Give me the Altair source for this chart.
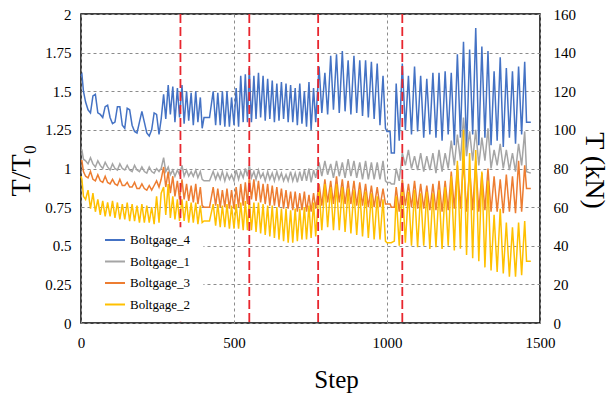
import altair as alt
import pandas as pd

# ---------------- data ----------------
steps = [0, 3, 8, 15, 23, 31, 39, 47, 55, 63, 71, 79, 87, 95, 103, 111, 119, 127, 135, 143,
         151, 159, 167, 175, 183, 191, 199, 207, 215, 223, 231, 239, 247, 255, 262,
         270, 277, 285, 292, 300, 307, 315, 322, 330, 337, 345, 352, 360, 367, 375, 382, 390, 396,
         402, 420,
         432, 440, 447, 455, 462, 470, 477, 485, 492, 500, 507, 515, 522, 530, 537, 544,
         550, 557, 565, 572, 580, 587, 595, 602, 610, 617, 625, 632, 640, 647, 655, 662, 670, 677,
         685, 692, 700, 707, 715, 722, 730, 737, 745, 752, 760, 767,
         778, 787, 797, 806, 816, 825, 835, 844, 854, 863, 873, 882, 892, 901, 911, 920, 930, 939,
         949, 958, 968, 977, 987, 995,
         1000, 1010, 1014, 1024,
         1030, 1040, 1050, 1060, 1070, 1080, 1090, 1100, 1110, 1120, 1130, 1140, 1150, 1160, 1170,
         1180, 1190, 1200, 1210, 1220, 1230, 1240, 1250, 1260, 1270, 1280, 1290, 1300, 1310, 1320,
         1330, 1340, 1350, 1360, 1370, 1380, 1390, 1400, 1410, 1420, 1430, 1440, 1450,
         1456, 1470]

boltgage_4 = [1.60, 1.61, 1.50, 1.43, 1.38, 1.36, 1.47, 1.48, 1.36, 1.35, 1.33, 1.40, 1.41, 1.33, 1.29,
              1.30, 1.40, 1.40, 1.28, 1.26, 1.39, 1.38, 1.28, 1.24, 1.23, 1.30, 1.37, 1.30, 1.23, 1.21,
              1.25, 1.36, 1.35, 1.22, 1.32,
              1.48, 1.32, 1.54, 1.35, 1.53, 1.30, 1.52, 1.33, 1.54, 1.29, 1.50, 1.31, 1.49, 1.28, 1.50,
              1.30, 1.46, 1.26,
              1.33, 1.33,
              1.50, 1.28, 1.49, 1.28, 1.50, 1.27, 1.50, 1.27, 1.46, 1.28, 1.52, 1.27, 1.60, 1.30, 1.61, 1.30,
              1.65, 1.30, 1.60, 1.32, 1.62, 1.33, 1.60, 1.31, 1.58, 1.32, 1.57, 1.30, 1.55, 1.31, 1.56,
              1.32, 1.55, 1.30, 1.54, 1.30, 1.52, 1.28, 1.55, 1.29, 1.50, 1.27, 1.56, 1.25, 1.52, 1.30,
              1.66, 1.36, 1.62, 1.35, 1.73, 1.38, 1.74, 1.36, 1.76, 1.37, 1.70, 1.35, 1.73, 1.36, 1.70,
              1.34, 1.70, 1.33, 1.69, 1.32, 1.68, 1.28, 1.60, 1.26,
              1.24, 1.24, 1.10, 1.10,
              1.55, 1.18, 1.68, 1.25, 1.60, 1.22, 1.66, 1.24, 1.60, 1.20, 1.58, 1.22, 1.62, 1.20, 1.62,
              1.18, 1.63, 1.22, 1.62, 1.15, 1.74, 1.20, 1.82, 1.12, 1.77, 1.22, 1.91, 1.15, 1.79, 1.20,
              1.76, 1.15, 1.63, 1.18, 1.72, 1.14, 1.65, 1.20, 1.63, 1.16, 1.66, 1.22, 1.69,
              1.30, 1.30]

boltgage_1 = [1.12, 1.12, 1.06, 1.05, 1.03, 1.07, 1.03, 1.01, 1.05, 1.02, 1.00, 1.04, 1.01, 0.99, 1.03,
              1.00, 0.99, 1.03, 1.00, 0.99, 1.02, 0.99, 0.98, 1.02, 0.99, 0.98, 1.01, 0.98, 0.97, 1.01,
              0.98, 0.97, 1.00, 0.98, 1.00,
              1.07, 0.98, 1.01, 0.96, 0.99, 0.95, 0.99, 0.96, 1.02, 0.95, 0.99, 0.95, 0.98, 0.95, 0.99,
              0.94, 0.98, 0.93,
              0.92, 0.92,
              0.98, 0.93, 0.97, 0.93, 0.98, 0.92, 0.97, 0.93, 0.96, 0.92, 0.99, 0.93, 0.98, 0.94, 1.00, 0.95,
              1.02, 0.94, 0.98, 0.93, 0.99, 0.94, 0.97, 0.92, 0.98, 0.93, 0.97, 0.92, 0.98, 0.93, 0.97,
              0.92, 0.96, 0.92, 0.98, 0.92, 0.97, 0.91, 0.98, 0.92, 0.99, 0.92, 1.00, 0.91, 0.99, 0.94,
              1.04, 0.95, 1.05, 0.96, 1.03, 0.94, 1.05, 0.95, 1.04, 0.94, 1.06, 0.95, 1.05, 0.94, 1.04,
              0.93, 1.05, 0.93, 1.04, 0.93, 1.04, 0.93, 1.05, 0.92,
              0.91, 0.91, 0.90, 0.90,
              1.00, 0.92, 1.10, 1.02, 1.12, 1.00, 1.08, 0.99, 1.10, 0.98, 1.08, 0.99, 1.10, 0.97, 1.12,
              0.98, 1.10, 1.00, 1.18, 1.02, 1.22, 1.05, 1.33, 1.08, 1.24, 1.05, 1.25, 1.02, 1.20, 1.05,
              1.26, 1.00, 1.12, 1.02, 1.16, 1.00, 1.12, 0.99, 1.10, 0.98, 1.16, 1.02, 1.24,
              0.98, 0.97]

boltgage_3 = [1.05, 1.05, 0.98, 0.95, 0.94, 0.98, 0.93, 0.92, 0.96, 0.92, 0.91, 0.95, 0.91, 0.90, 0.93,
              0.90, 0.89, 0.93, 0.89, 0.89, 0.91, 0.88, 0.88, 0.91, 0.87, 0.87, 0.90, 0.87, 0.86, 0.89,
              0.86, 0.89, 0.92, 0.88, 0.93,
              1.01, 0.88, 0.98, 0.84, 0.95, 0.82, 0.92, 0.80, 0.93, 0.80, 0.90, 0.79, 0.89, 0.78, 0.90,
              0.77, 0.88, 0.76,
              0.75, 0.75,
              0.88, 0.76, 0.87, 0.75, 0.86, 0.75, 0.87, 0.74, 0.86, 0.74, 0.88, 0.75, 0.90, 0.76, 0.91, 0.77,
              0.95, 0.80, 0.93, 0.79, 0.92, 0.78, 0.90, 0.77, 0.90, 0.76, 0.89, 0.76, 0.88, 0.75, 0.87,
              0.74, 0.86, 0.74, 0.85, 0.73, 0.85, 0.72, 0.84, 0.73, 0.85, 0.72, 0.83, 0.72, 0.84, 0.74,
              0.90, 0.76, 0.93, 0.78, 0.92, 0.77, 0.95, 0.78, 0.93, 0.77, 0.92, 0.77, 0.92, 0.76, 0.91,
              0.76, 0.90, 0.75, 0.89, 0.75, 0.88, 0.75, 0.87, 0.77,
              0.77, 0.77, 0.75, 0.75,
              0.88, 0.72, 0.93, 0.76, 0.90, 0.75, 0.92, 0.74, 0.90, 0.74, 0.89, 0.73, 0.90, 0.73, 0.92,
              0.72, 0.92, 0.73, 0.98, 0.74, 1.02, 0.74, 1.05, 0.72, 1.00, 0.73, 1.05, 0.72, 0.97, 0.73,
              1.00, 0.72, 0.95, 0.72, 0.93, 0.71, 0.96, 0.72, 0.95, 0.71, 1.05, 0.72, 1.02,
              0.87, 0.87]

boltgage_2 = [0.95, 0.93, 0.82, 0.80, 0.86, 0.74, 0.84, 0.72, 0.80, 0.70, 0.79, 0.69, 0.78, 0.69, 0.79,
              0.68, 0.78, 0.67, 0.77, 0.67, 0.78, 0.66, 0.77, 0.66, 0.76, 0.65, 0.77, 0.65, 0.76, 0.65,
              0.75, 0.64, 0.82, 0.65, 0.84,
              0.88, 0.70, 0.90, 0.68, 0.82, 0.67, 0.80, 0.66, 0.80, 0.66, 0.79, 0.65, 0.78, 0.65, 0.78,
              0.64, 0.76, 0.65,
              0.66, 0.66,
              0.77, 0.63, 0.77, 0.62, 0.76, 0.62, 0.77, 0.61, 0.76, 0.61, 0.77, 0.61, 0.78, 0.60, 0.79, 0.60,
              0.80, 0.60, 0.78, 0.59, 0.78, 0.58, 0.77, 0.57, 0.76, 0.56, 0.76, 0.55, 0.75, 0.54, 0.74,
              0.53, 0.74, 0.52, 0.73, 0.52, 0.74, 0.53, 0.74, 0.54, 0.75, 0.54, 0.76, 0.55, 0.78, 0.56,
              0.86, 0.60, 0.90, 0.62, 0.88, 0.60, 0.90, 0.60, 0.88, 0.59, 0.87, 0.58, 0.86, 0.57, 0.86,
              0.56, 0.85, 0.55, 0.84, 0.54, 0.82, 0.54, 0.80, 0.53,
              0.52, 0.52, 0.52, 0.53,
              0.82, 0.50, 0.88, 0.52, 0.85, 0.50, 0.86, 0.49, 0.84, 0.50, 0.85, 0.48, 0.84, 0.49, 0.86,
              0.48, 0.88, 0.50, 0.95, 0.47, 1.05, 0.48, 1.25, 0.44, 1.10, 0.42, 1.12, 0.40, 0.98, 0.36,
              0.92, 0.34, 0.70, 0.33, 0.74, 0.32, 0.65, 0.30, 0.62, 0.30, 0.65, 0.31, 0.66,
              0.40, 0.40]

series_names = ["Boltgage_4", "Boltgage_1", "Boltgage_3", "Boltgage_2"]
series_colors = ["#4472C4", "#A5A5A5", "#ED7D31", "#FFC000"]
load_change_steps = [325, 550, 775, 1050]
T0_kN = 80  # T/T0 = 1 corresponds to 80 kN on the right axis

y_ticks = [0, 0.25, 0.5, 0.75, 1, 1.25, 1.5, 1.75, 2]
x_ticks = [0, 500, 1000, 1500]
kn_ticks = [0, 20, 40, 60, 80, 100, 120, 140, 160]

# legend background box (in data units)
legend_box = {"x0": [4], "x1": [400], "y0": [0.008], "y1": [0.62]}

# ---------------- build table ----------------
all_vals = [boltgage_4, boltgage_1, boltgage_3, boltgage_2]
frames = []
for name, vals in zip(series_names, all_vals):
    assert len(vals) == len(steps), (name, len(vals), len(steps))
    frames.append(pd.DataFrame({"Step": steps, "ratio": vals, "series": name}))
df = pd.concat(frames, ignore_index=True)

FONT = "Liberation Serif, Times New Roman, serif"

x_axis = alt.Axis(values=x_ticks, format="d", title="Step", grid=True, gridDash=[3, 3],
                  gridColor="#8c8c8c", gridWidth=1, domain=False, ticks=False, labelFont=FONT,
                  labelFontSize=15, labelColor="black", labelPadding=12, titleFont=FONT,
                  titleFontSize=25, titleFontWeight="normal", titleColor="black", titleX=255,
                  titleY=64, titleAlign="center", titleBaseline="alphabetic", labelFlush=False)
y_axis = alt.Axis(values=y_ticks, format=".2~f", title="T/T₀", grid=True, gridDash=[3, 3],
                  gridColor="#8c8c8c", gridWidth=1, domain=False, ticks=False, labelFont=FONT,
                  labelFontSize=15, labelColor="black", labelPadding=10, titleFont=FONT,
                  titleFontSize=28, titleFontWeight="normal", titleColor="black", titleX=-52,
                  titleY=156, titleAlign="center", titleBaseline="alphabetic", titleAngle=270)

x_enc = alt.X("Step:Q", scale=alt.Scale(domain=[0, 1500], nice=False), axis=x_axis)
y_scale = alt.Scale(domain=[0, 2], nice=False)

color_enc = alt.Color(
    "series:N",
    scale=alt.Scale(domain=series_names, range=series_colors),
    legend=alt.Legend(orient="none", legendX=23, legendY=215, title=None, symbolType="stroke",
                      symbolSize=400, symbolStrokeWidth=2, labelFont=FONT, labelFontSize=13,
                      labelColor="black", rowPadding=3.5, labelOffset=4, padding=0),
)

line_layers = []
for name in series_names:
    line_layers.append(
        alt.Chart(df).transform_filter(alt.datum.series == name)
        .mark_line(strokeWidth=1.5)
        .encode(x=x_enc, y=alt.Y("ratio:Q", scale=y_scale, axis=y_axis), color=color_enc,
                order=alt.Order("Step:Q"))
    )

rules = alt.Chart(pd.DataFrame({"Step": load_change_steps})).mark_rule(
    color="#E8262E", strokeDash=[9, 4], strokeWidth=1.8
).encode(x=x_enc)

box = alt.Chart(pd.DataFrame(legend_box)).mark_rect(color="white").encode(
    x=alt.X("x0:Q", scale=alt.Scale(domain=[0, 1500], nice=False), axis=x_axis),
    x2="x1:Q",
    y=alt.Y("y0:Q", scale=y_scale, axis=y_axis),
    y2="y1:Q",
)

main = alt.layer(*line_layers, rules, box)

right = alt.Chart(df[df["series"] == "Boltgage_4"]).transform_calculate(
    kN=f"datum.ratio * {T0_kN}"
).mark_line(opacity=0).encode(
    x=x_enc,
    y=alt.Y("kN:Q", scale=alt.Scale(domain=[0, 160], nice=False),
            axis=alt.Axis(orient="right", values=kn_ticks, title="T (kN)", grid=False, domain=False,
                          ticks=False, labelFont=FONT, labelFontSize=15, labelColor="black",
                          labelPadding=13, titleFont=FONT, titleFontSize=28,
                          titleFontWeight="normal", titleColor="black", titleX=45, titleY=156,
                          titleAlign="center", titleBaseline="alphabetic", titleAngle=90)),
)

chart = alt.layer(main, right).resolve_scale(y="independent").properties(
    width=459, height=309,
    autosize=alt.AutoSizeParams(type="none"),
    padding={"left": 81, "top": 14, "right": 71, "bottom": 72},
    background="white",
).configure_view(stroke="black", strokeWidth=1.5).configure_axis(
    labelFont=FONT, titleFont=FONT
).configure_legend(labelFont=FONT)

chart.save("out.html", embed_options={"renderer": "svg", "actions": False})
